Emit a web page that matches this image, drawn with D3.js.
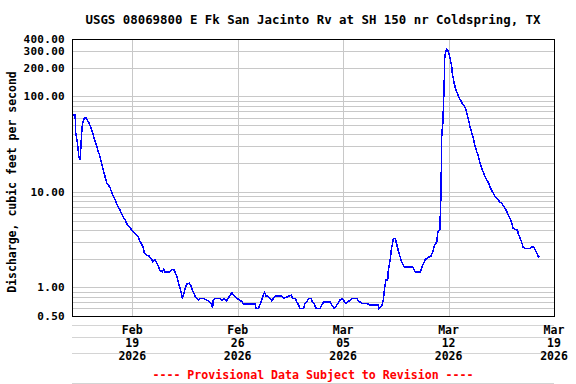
<!DOCTYPE html>
<html>
<head>
<meta charset="utf-8">
<script src="https://cdn.jsdelivr.net/npm/d3@7"></script>
<style>
  body{margin:0;background:#fff;}
  text{font-family:"DejaVu Sans Mono",monospace;font-weight:bold;}
</style>
</head>
<body>
<div id="chart"></div>
<script>
/*
* USGS discharge graph (log scale)
*/

// hours after 2026-02-15 00:00
var obsHours = [0,5,6,8,10,11,13,15,16,18,20,22,24,27,29,31,33,35,37,39,41,44,46,48,50,52,54,56,59,61,63,66,69,71,74,77,79,82,85,87,90,93,95,98,100,103,106,108,111,114,115,119,123,124,126,129,132,135,138,140,144,146,148,156,159,163,165,167,169,171,173,176,179,181,183,187,189,191,193,196,199,201,204,209,215,219,223,224,225,228,236,239,242,246,249,252,255,257,263,267,271,273,292,293,297,300,302,305,307,309,311,316,318,321,324,334,337,350,351,356,358,361,363,369,371,374,377,381,383,386,389,395,398,401,411,414,418,422,427,430,433,437,443,446,454,456,462,470,475,488,489,494,496,498,500,503,504,507,509,511,512,515,517,519,521,523,525,527,529,542,544,547,555,557,560,563,568,572,575,577,579,581,583,586,588,589,591,593,594,596,597,599,601,603,605,606,608,609,611,613,616,619,621,624,627,629,632,634,637,640,642,645,648,650,653,656,658,661,664,666,669,672,674,677,680,682,685,687,690,693,695,698,701,703,706,710,711,714,717,719,722,730,733,736,738,741,743,745];
// discharge, cubic feet per second
var flowCfs = [64,64,41,35,27,23,21.5,37,48,56,60,60,57,53,49,45,41,37,33.5,31,27.4,24.3,21.5,19.1,16.9,15,13.3,12.1,11.5,10.9,10,8.9,8.2,7.45,6.9,6.35,5.85,5.4,5.06,4.68,4.38,4.18,3.98,3.82,3.67,3.52,3.33,3.07,2.84,2.56,2.3,2.18,2.12,2.06,2.01,1.85,1.96,1.81,1.64,1.51,1.45,1.54,1.45,1.45,1.54,1.51,1.4,1.29,1.17,1.03,0.935,0.765,0.897,1.0,1.08,1.1,1.05,0.974,0.897,0.81,0.765,0.734,0.765,0.765,0.734,0.705,0.651,0.601,0.734,0.765,0.765,0.73,0.765,0.72,0.765,0.83,0.876,0.83,0.765,0.734,0.705,0.667,0.667,0.601,0.601,0.667,0.734,0.83,0.88,0.81,0.81,0.765,0.722,0.765,0.81,0.81,0.765,0.83,0.765,0.765,0.705,0.651,0.601,0.601,0.667,0.705,0.765,0.765,0.705,0.667,0.601,0.601,0.651,0.705,0.705,0.651,0.601,0.651,0.734,0.765,0.722,0.678,0.734,0.765,0.765,0.722,0.678,0.678,0.651,0.651,0.601,0.651,0.734,0.974,1.19,1.19,1.51,1.93,2.56,2.93,3.26,3.26,2.89,2.56,2.27,2.06,1.85,1.75,1.64,1.64,1.58,1.45,1.45,1.58,1.78,1.96,2.06,2.12,2.36,2.66,2.89,2.93,3.82,3.98,9.64,37.8,54.3,132,261,301,312,301,272,241,205,175,149,137,122,112,99,91.6,85.9,81.3,75,66.5,56.6,48.1,41.6,35.5,30.2,26.3,23,20.2,17.6,15.6,14.4,13.3,12.3,11.3,10.3,9.48,8.89,8.47,8.07,7.76,7.57,7.22,6.71,6.18,5.71,5.27,4.68,4.14,4.04,3.98,3.67,3.26,2.89,2.62,2.56,2.56,2.66,2.62,2.45,2.27,2.09,2.06];

var yTickValues = [0.5,1,10,100,200,300,400];
var xTickDates = ["2026-02-19","2026-02-26","2026-03-05","2026-03-12","2026-03-19"];
var titleText = "USGS 08069800 E Fk San Jacinto Rv at SH 150 nr Coldspring, TX";
var yTitle = "Discharge, cubic feet per second";
var footText = "---- Provisional Data Subject to Revision ----";

var parseDay = d3.timeParse("%Y-%m-%d");
var start = parseDay("2026-02-15"), end = parseDay("2026-03-19");
var data = obsHours.map(function(h,i){return {t:d3.timeHour.offset(start,h), v:flowCfs[i]};});

var W=576, H=384;
var plot = {l:72, r:554, t:39, b:316};

var svg = d3.select("#chart").append("svg").attr("width",W).attr("height",H);
svg.append("rect").attr("width",W).attr("height",H).attr("fill","#fff");

var x = d3.scaleTime().domain([start,end]).range([plot.l,plot.r]);
var y = d3.scaleLog().domain([0.5,400]).range([plot.b,plot.t]);

// horizontal grid (1-9 per decade)
svg.append("g").selectAll("line").data(y.ticks()).enter().append("line")
  .attr("x1",plot.l).attr("x2",plot.r)
  .attr("y1",function(d){return Math.round(y(d))+0.5}).attr("y2",function(d){return Math.round(y(d))+0.5})
  .attr("stroke","#c8c8c8").attr("stroke-width",1);

// vertical grid
var xTicks = xTickDates.map(parseDay);
svg.append("g").selectAll("line").data(xTicks).enter().append("line")
  .attr("x1",function(d){return Math.round(x(d))+0.5}).attr("x2",function(d){return Math.round(x(d))+0.5})
  .attr("y1",plot.t).attr("y2",plot.b)
  .attr("stroke","#c8c8c8").attr("stroke-width",1);

// faint rules under the plot
svg.append("g").selectAll("line").data([325,337,353,383]).enter().append("line")
  .attr("x1",plot.l).attr("x2",plot.r)
  .attr("y1",function(d){return d+0.5}).attr("y2",function(d){return d+0.5})
  .attr("stroke","#d4d4d4");

// discharge line, aliased like the original gif
var line = d3.line().x(function(d){return x(d.t)}).y(function(d){return y(d.v)});
svg.append("path").datum(data).attr("d",line)
  .attr("fill","none").attr("stroke","#0000ff").attr("stroke-width",1.5)
  .attr("shape-rendering","crispEdges");

// frame
svg.append("rect").attr("x",plot.l+0.5).attr("y",plot.t+0.5)
  .attr("width",plot.r-plot.l).attr("height",plot.b-plot.t)
  .attr("fill","none").attr("stroke","#000").attr("stroke-width",1);

// y labels
svg.append("g").selectAll("text").data(yTickValues).enter().append("text")
  .attr("x",65).attr("y",function(d){return y(d)+4})
  .attr("text-anchor","end").attr("font-size","11px").attr("letter-spacing","0.3px")
  .text(d3.format(".2f"));

// x labels (3 rows)
var rows = [["%b",334],["%d",347],["%Y",360]];
rows.forEach(function(r){
  svg.append("g").selectAll("text").data(xTicks).enter().append("text")
    .attr("x",function(d){return x(d)}).attr("y",r[1])
    .attr("text-anchor","middle").attr("font-size","11.5px")
    .text(d3.timeFormat(r[0]));
});

// titles
svg.append("text").attr("x",313).attr("y",24).attr("text-anchor","middle")
  .attr("font-size","12.4px").text(titleText);
svg.append("text").attr("transform","translate(16,182) rotate(-90)")
  .attr("text-anchor","middle").attr("font-size","11.5px").text(yTitle);
svg.append("text").attr("x",313).attr("y",379).attr("text-anchor","middle")
  .attr("font-size","11.6px").attr("fill","#ff0000").text(footText);
</script>
</body>
</html>
